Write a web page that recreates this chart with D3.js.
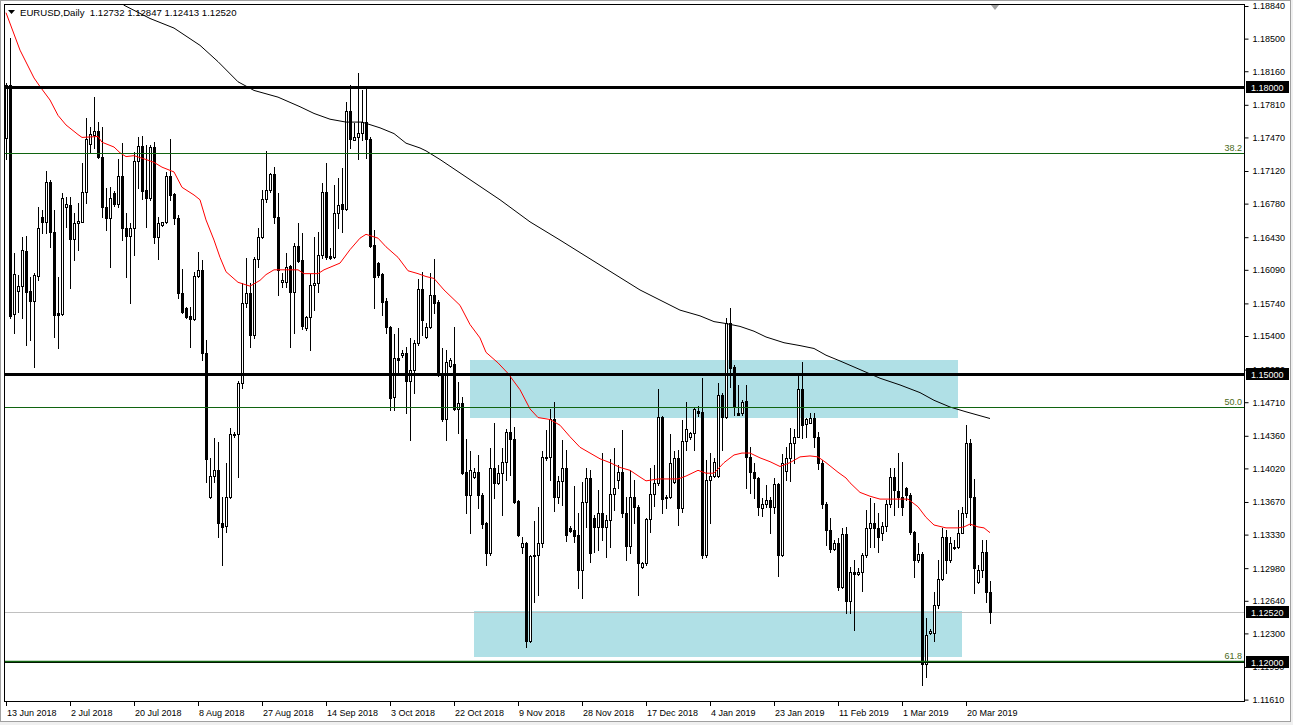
<!DOCTYPE html>
<html><head><meta charset="utf-8">
<script src="https://cdn.jsdelivr.net/npm/d3@7"></script>
<style>
body{margin:0;background:#fff;overflow:hidden;}
svg{display:block;}
text{font-family:"Liberation Sans",Arial,sans-serif;}
</style>
</head><body>
<svg id="c" width="1293" height="725"></svg>
<script>
// ---------- DATA ----------
const opens = [1.1746,1.1802,1.1563,1.1587,1.1592,1.1629,1.1587,1.1577,1.1603,1.1664,1.1659,1.1701,1.1648,1.1564,1.1563,1.1675,1.1677,1.1641,1.1658,1.1659,
1.1690,1.1740,1.1750,1.1754,1.1727,1.1675,1.1663,1.1689,1.1678,1.1707,1.1653,1.1644,1.1653,1.1722,1.1738,1.1692,1.1684,1.1737,1.1643,1.1656,
1.1659,1.1707,1.1688,1.1663,1.1585,1.1569,1.1561,1.1558,1.1603,1.1609,1.1522,1.1372,1.1394,1.1400,1.1345,1.1342,1.1372,1.1437,1.1438,1.1491,
1.1574,1.1585,1.1541,1.1620,1.1643,1.1683,1.1692,1.1709,1.1664,1.1596,1.1596,1.1613,1.1586,1.1634,1.1619,1.1548,1.1560,1.1593,1.1595,1.1624,
1.1690,1.1623,1.1622,1.1668,1.1678,1.1672,1.1775,1.1744,1.1747,1.1752,1.1763,1.1745,1.1635,1.1616,1.1605,1.1577,1.1549,1.1476,1.1517,1.1520,
1.1522,1.1493,1.1505,1.1533,1.1589,1.1539,1.1549,1.1583,1.1575,1.1500,1.1454,1.1509,1.1511,1.1464,1.1470,1.1398,1.1374,1.1393,1.1398,1.1374,
1.1345,1.1314,1.1402,1.1387,1.1397,1.1409,1.1440,1.1433,1.1368,1.1320,1.1324,1.1222,1.1311,1.1312,1.1324,1.1413,1.1414,1.1454,1.1372,1.1389,
1.1402,1.1340,1.1338,1.1333,1.1296,1.1367,1.1392,1.1350,1.1341,1.1355,1.1341,1.1348,1.1375,1.1390,1.1398,1.1356,1.1321,1.1372,1.1362,1.1299,
1.1303,1.1349,1.1375,1.1387,1.1456,1.1371,1.1372,1.1388,1.1413,1.1361,1.1431,1.1435,1.1439,1.1462,1.1461,1.1312,1.1390,1.1394,1.1394,1.1479,
1.1456,1.1554,1.1508,1.1460,1.1460,1.1472,1.1414,1.1398,1.1392,1.1361,1.1365,1.1369,1.1362,1.1386,1.1312,1.1399,1.1413,1.1428,1.1435,1.1485,
1.1448,1.1449,1.1455,1.1435,1.1408,1.1365,1.1338,1.1318,1.1324,1.1278,1.1334,1.1264,1.1294,1.1292,1.1294,1.1312,1.1340,1.1345,1.1340,1.1335,
1.1342,1.1365,1.1393,1.1378,1.1372,1.1382,1.1374,1.1336,1.1307,1.1313,1.1198,1.1230,1.1230,1.1260,1.1287,1.1331,1.1307,1.1319,1.1320,1.1335,
1.1355,1.1428,1.1372,1.1284,1.1296,1.1315,1.12732];
const highs = [1.1804,1.1851,1.1627,1.1604,1.1643,1.1644,1.1601,1.1606,1.1675,1.1671,1.1712,1.1703,1.1671,1.1601,1.1689,1.1685,1.1685,1.1668,1.1679,1.1720,
1.1767,1.1758,1.1789,1.1763,1.1758,1.1694,1.1695,1.1691,1.1725,1.1741,1.1668,1.1658,1.1732,1.1747,1.1749,1.1739,1.1739,1.1742,1.1664,1.1659,
1.1711,1.1745,1.1689,1.1666,1.1610,1.1570,1.1570,1.1607,1.1628,1.1619,1.1536,1.1413,1.1434,1.1429,1.1372,1.1408,1.1444,1.1440,1.1493,1.1595,
1.1621,1.1595,1.1622,1.1653,1.1692,1.1733,1.1710,1.1716,1.1689,1.1606,1.1627,1.1614,1.1637,1.1658,1.1647,1.1561,1.1605,1.1643,1.1648,1.1700,
1.1720,1.1632,1.1697,1.1705,1.1715,1.1784,1.1802,1.1762,1.1814,1.1796,1.1798,1.1747,1.1651,1.1617,1.1606,1.1580,1.1550,1.1542,1.1548,1.1525,
1.1529,1.1538,1.1536,1.1599,1.1607,1.1554,1.1606,1.1620,1.1578,1.1528,1.1525,1.1517,1.1549,1.1492,1.1476,1.1433,1.1420,1.1402,1.1416,1.1376,
1.1346,1.1423,1.1449,1.1406,1.1423,1.1443,1.1500,1.1445,1.1369,1.1331,1.1325,1.1312,1.1347,1.1362,1.1420,1.1442,1.1464,1.1471,1.1394,1.1432,
1.1421,1.1342,1.1384,1.1356,1.1388,1.1402,1.1400,1.1353,1.1380,1.1418,1.1353,1.1412,1.1423,1.1406,1.1442,1.1372,1.1400,1.1390,1.1364,1.1304,
1.1350,1.1402,1.1406,1.1485,1.1457,1.1374,1.1438,1.1420,1.1421,1.1452,1.1471,1.1440,1.1466,1.1467,1.1496,1.1411,1.1418,1.1413,1.1491,1.1481,
1.1559,1.1569,1.1510,1.1489,1.1473,1.1489,1.1424,1.1408,1.1393,1.1371,1.1385,1.1372,1.1392,1.1387,1.1417,1.1424,1.1444,1.1443,1.1499,1.1513,
1.1455,1.1460,1.1460,1.1440,1.1411,1.1367,1.1350,1.1327,1.1329,1.1340,1.1341,1.1299,1.1307,1.1298,1.1314,1.1359,1.1371,1.1366,1.1356,1.1346,
1.1369,1.1402,1.1402,1.1418,1.1409,1.1383,1.1376,1.1337,1.1324,1.1315,1.1246,1.1235,1.1273,1.1307,1.1340,1.1338,1.1331,1.1327,1.1359,1.1362,
1.1447,1.1433,1.1391,1.1301,1.1327,1.1327,1.12847];
const lows = [1.1724,1.1559,1.1543,1.1565,1.1559,1.1531,1.1536,1.1508,1.1598,1.1647,1.1647,1.1633,1.1539,1.1527,1.1562,1.1654,1.1590,1.1619,1.1630,1.1659,
1.1679,1.1732,1.1736,1.1726,1.1664,1.1651,1.1612,1.1676,1.1675,1.1640,1.1602,1.1574,1.1624,1.1694,1.1683,1.1654,1.1682,1.1637,1.1620,1.1655,
1.1658,1.1682,1.1657,1.1580,1.1564,1.1559,1.1529,1.1557,1.1602,1.1515,1.1388,1.1371,1.1388,1.1331,1.1301,1.1336,1.1371,1.1435,1.1393,1.1486,
1.1570,1.1529,1.1538,1.1612,1.1642,1.1680,1.1690,1.1658,1.1583,1.1591,1.1591,1.1529,1.1543,1.1617,1.1547,1.1546,1.1525,1.1567,1.1586,1.1621,
1.1620,1.1620,1.1621,1.1653,1.1648,1.1671,1.1736,1.1744,1.1724,1.1744,1.1726,1.1633,1.1569,1.1602,1.1562,1.1543,1.1463,1.1463,1.1501,1.1518,
1.1460,1.1432,1.1481,1.1531,1.1541,1.1538,1.1548,1.1564,1.1498,1.1451,1.1432,1.1508,1.1463,1.1439,1.1396,1.1356,1.1335,1.1392,1.1361,1.1340,
1.1301,1.1312,1.1371,1.1386,1.1353,1.1390,1.1395,1.1366,1.1332,1.1314,1.1216,1.1221,1.1263,1.1270,1.1320,1.1411,1.1390,1.1358,1.1366,1.1364,
1.1326,1.1336,1.1325,1.1277,1.1267,1.1341,1.1304,1.1315,1.1317,1.1327,1.1310,1.1320,1.1359,1.1382,1.1351,1.1306,1.1314,1.1345,1.1270,1.1298,
1.1301,1.1336,1.1363,1.1385,1.1356,1.1361,1.1371,1.1387,1.1343,1.1357,1.1421,1.1433,1.1421,1.1457,1.1309,1.1310,1.1345,1.1393,1.1393,1.1421,
1.1455,1.1487,1.1458,1.1458,1.1458,1.1382,1.1376,1.1371,1.1353,1.1352,1.1362,1.1335,1.1356,1.1290,1.1311,1.1390,1.1389,1.1408,1.1435,1.1434,
1.1435,1.1449,1.1424,1.1401,1.1361,1.1322,1.1315,1.1317,1.1275,1.1277,1.1251,1.1251,1.1234,1.1291,1.1274,1.1310,1.1320,1.1320,1.1315,1.1327,
1.1337,1.1362,1.1353,1.1362,1.1353,1.1369,1.1334,1.1289,1.1304,1.1176,1.1185,1.1229,1.1222,1.1256,1.1286,1.1293,1.1304,1.1318,1.1319,1.1335,
1.1351,1.1343,1.1272,1.1283,1.1289,1.1263,1.12413];
const closes = [1.1802,1.1561,1.1605,1.1592,1.1630,1.1586,1.1577,1.1604,1.1653,1.1659,1.1701,1.1648,1.1562,1.1562,1.1684,1.1678,1.1641,1.1658,1.1660,1.1690,
1.1745,1.1751,1.1754,1.1727,1.1675,1.1663,1.1684,1.1678,1.1707,1.1653,1.1644,1.1653,1.1722,1.1738,1.1691,1.1684,1.1737,1.1643,1.1658,1.1659,
1.1707,1.1687,1.1663,1.1585,1.1565,1.1560,1.1558,1.1603,1.1609,1.1522,1.1412,1.1394,1.1400,1.1345,1.1341,1.1372,1.1438,1.1438,1.1491,1.1574,
1.1585,1.1541,1.1620,1.1643,1.1683,1.1692,1.1709,1.1664,1.1609,1.1598,1.1612,1.1586,1.1634,1.1618,1.1550,1.1560,1.1593,1.1595,1.1624,1.1690,
1.1622,1.1621,1.1668,1.1677,1.1672,1.1775,1.1745,1.1747,1.1752,1.1763,1.1745,1.1634,1.1602,1.1604,1.1575,1.1549,1.1475,1.1517,1.1515,1.1522,
1.1493,1.1505,1.1533,1.1589,1.1557,1.1549,1.1583,1.1574,1.1500,1.1454,1.1513,1.1515,1.1464,1.1470,1.1397,1.1374,1.1400,1.1398,1.1374,1.1344,
1.1314,1.1402,1.1387,1.1397,1.1409,1.1440,1.1433,1.1367,1.1333,1.1324,1.1222,1.1311,1.1312,1.1324,1.1414,1.1414,1.1454,1.1372,1.1389,1.1402,
1.1333,1.1337,1.1332,1.1296,1.1367,1.1392,1.1314,1.1341,1.1355,1.1341,1.1348,1.1375,1.1382,1.1398,1.1356,1.1321,1.1372,1.1362,1.1303,1.1303,
1.1349,1.1375,1.1387,1.1456,1.1370,1.1372,1.1408,1.1413,1.1361,1.1431,1.1443,1.1439,1.1464,1.1460,1.1312,1.1390,1.1394,1.1409,1.1479,1.1456,
1.1554,1.1507,1.1466,1.1458,1.1471,1.1414,1.1398,1.1392,1.1362,1.1365,1.1369,1.1362,1.1386,1.1312,1.1408,1.1413,1.1428,1.1435,1.1485,1.1447,
1.1453,1.1455,1.1435,1.1408,1.1365,1.1338,1.1318,1.1324,1.1278,1.1334,1.1264,1.1294,1.1292,1.1294,1.1312,1.1340,1.1345,1.1340,1.1331,1.1342,
1.1365,1.1393,1.1380,1.1372,1.1362,1.1374,1.1336,1.1307,1.1313,1.1198,1.1228,1.1233,1.1260,1.1287,1.1331,1.1307,1.1324,1.1320,1.1335,1.1355,
1.1428,1.1372,1.1298,1.1296,1.1315,1.1273,1.12520];

// moving averages (bar index, value)
const redIdx = [0,3.5,7,8.5,11,13,15,18,19,23,24,27,28.5,30,32,35,37,39,42,44,47,48.5,50,52,53.5,55,58,61,63.5,65,67,70,73,74.5,78,79.5,83.5,86,88.5,90,93,95,98,100.5,103,105,107,109.5,112,113.5,116,118.5,120,123,125.5,128.5,131,133,136,138.5,141,143.5,146,148.5,151,153.5,156,158.5,160,163,165,168,170,173,175,177,179.5,182,184,186,188.5,191,193.5,196,198.5,201,203,205,208,210,211,213.5,216,218.5,221,223.5,225.5,228,230,232,235,238,239.5,241,243,244.5,246];
const redVal = [1.1877,1.1838,1.1809,1.1800,1.1786,1.1770,1.1760,1.1750,1.1747,1.1748,1.1742,1.1737,1.1731,1.1727,1.1728,1.1724,1.1721,1.1716,1.1711,1.1695,1.1687,1.1682,1.1661,1.1640,1.1622,1.1607,1.1596,1.1592,1.1598,1.1604,1.1609,1.1609,1.1609,1.1605,1.1605,1.1609,1.1616,1.1630,1.1642,1.1646,1.1642,1.1633,1.1622,1.1608,1.1605,1.1602,1.1600,1.1588,1.1578,1.1572,1.1552,1.1538,1.1523,1.1512,1.1501,1.1484,1.1464,1.1455,1.1453,1.1447,1.1435,1.1424,1.1418,1.1412,1.1408,1.1403,1.1400,1.1393,1.1389,1.1391,1.1391,1.1391,1.1394,1.1400,1.1397,1.1397,1.1408,1.1416,1.1418,1.1418,1.1413,1.1409,1.1404,1.1408,1.1414,1.1415,1.1414,1.1408,1.1398,1.1392,1.1387,1.1377,1.1373,1.1370,1.1370,1.1370,1.1370,1.1362,1.1351,1.1343,1.1340,1.1340,1.1341,1.1344,1.1341,1.1340,1.1335];
const blackIdx = [29.4,36,42,48.5,53,58,62,68,73.5,77,81,85,89,93.5,97,100,103.5,105,108.5,116,123.5,131,138.5,148.5,158.5,168.5,173.5,177,180,183.5,187,190,194.5,198.5,202,205,208.5,213.5,218.5,223.5,228.5,232,236,240,246];
const blackVal = [1.1885,1.1871,1.1861,1.1843,1.1826,1.1805,1.1796,1.1789,1.1779,1.1772,1.1766,1.1763,1.1763,1.1757,1.1751,1.1741,1.1736,1.1733,1.1724,1.1703,1.1682,1.1659,1.1640,1.1614,1.1588,1.1567,1.1561,1.1555,1.1553,1.1550,1.1545,1.1539,1.1533,1.1530,1.1527,1.1520,1.1514,1.1505,1.1496,1.1489,1.1481,1.1473,1.1466,1.1461,1.1454];

// zones (bar index from/to, price top/bottom)
const zoneFrom = [116, 117];
const zoneTo = [238, 239];
const zoneTop = [1.1515, 1.1253];
const zoneBottom = [1.1455, 1.1205];

// horizontal levels
const levelPrices = [1.18000, 1.15000, 1.12000];
const levelWidths = [3, 3, 1];
const fibPrices = [1.1731, 1.1466, 1.1201];
const fibLabels = ["38.2", "50.0", "61.8"];
const bidPrice = 1.12520;

// axis ticks
const priceTicks = [1.18840,1.18500,1.18160,1.17810,1.17470,1.17120,1.16780,1.16430,1.16090,1.15740,1.15400,1.15050,1.14710,1.14360,1.14020,1.13670,1.13330,1.12980,1.12640,1.12300,1.11950,1.11610];
const dateLabels = ["13 Jun 2018","2 Jul 2018","20 Jul 2018","8 Aug 2018","27 Aug 2018","14 Sep 2018","3 Oct 2018","22 Oct 2018","9 Nov 2018","28 Nov 2018","17 Dec 2018","4 Jan 2019","23 Jan 2019","11 Feb 2019","1 Mar 2019","20 Mar 2019"];
const dateIdx = [0,16,32,48,64,80,96,112,128,144,160,176,192,208,224,240];
const boxPrices = [1.18000, 1.15000, 1.12520, 1.12000];
const titleText = "EURUSD,Daily  1.12732 1.12847 1.12413 1.12520";

// ---------- DRAW ----------
const W = 1293, H = 725;
const L = 4, R = 1244, T = 4, B = 701;
const svg = d3.select("#c");
const x = d3.scaleLinear().domain([-0.5, 309.5]).range([L, R]);
const y = d3.scaleLinear().domain([1.11610, 1.18840]).range([699.6, 6]);
const fs = 9;

svg.append("rect").attr("width", W).attr("height", H).attr("fill", "#f0f0f0");
svg.append("rect").attr("x", 0.5).attr("y", 0.5).attr("width", 1290).attr("height", 721)
  .attr("fill", "#fff").attr("stroke", "#a0a0a0");

svg.append("defs").append("clipPath").attr("id", "clip")
  .append("rect").attr("x", L + 1).attr("y", T + 1).attr("width", R - L - 1).attr("height", B - T - 1);
const g = svg.append("g").attr("clip-path", "url(#clip)");

// zones
g.selectAll("rect.zone").data(zoneFrom).join("rect").attr("class", "zone")
  .attr("x", (d, i) => Math.round(x(d)))
  .attr("width", (d, i) => Math.round(x(zoneTo[i])) - Math.round(x(d)))
  .attr("y", (d, i) => Math.round(y(zoneTop[i])))
  .attr("height", (d, i) => Math.round(y(zoneBottom[i])) - Math.round(y(zoneTop[i])))
  .attr("fill", "#b0e0e6");

// bid line
g.append("line").attr("x1", L).attr("x2", R)
  .attr("y1", Math.round(y(bidPrice)) + 0.5).attr("y2", Math.round(y(bidPrice)) + 0.5)
  .attr("stroke", "#c0c0c0").attr("stroke-width", 1);

// candles
const n = closes.length;
const idx = d3.range(n);
const cg = g.append("g");
cg.selectAll("line.wick").data(idx).join("line").attr("class", "wick")
  .attr("x1", i => Math.round(x(i)) + 0.5).attr("x2", i => Math.round(x(i)) + 0.5)
  .attr("y1", i => Math.round(y(highs[i]))).attr("y2", i => Math.round(y(lows[i])) + 1)
  .attr("stroke", "#000").attr("stroke-width", 1);
cg.selectAll("rect.body").data(idx).join("rect").attr("class", "body")
  .each(function (i) {
    const cx = Math.round(x(i));
    const yo = Math.round(y(opens[i])), yc = Math.round(y(closes[i]));
    const s = d3.select(this);
    if (closes[i] >= opens[i]) {
      s.attr("x", cx - 0.5).attr("width", 2)
        .attr("y", yc + 0.5).attr("height", Math.max(0, yo - yc))
        .attr("fill", "#fff").attr("stroke", "#000").attr("stroke-width", 1);
    } else {
      s.attr("x", cx - 1).attr("width", 3)
        .attr("y", yo).attr("height", Math.max(1, yc - yo + 1))
        .attr("fill", "#000");
    }
  });

// moving averages
const lineGen = d3.line().x(d => x(d[0])).y(d => y(d[1]));
g.append("path").datum(redIdx.map((d, i) => [d, redVal[i]]))
  .attr("d", lineGen).attr("fill", "none").attr("stroke", "#ff0000").attr("stroke-width", 1);
g.append("path").datum(blackIdx.map((d, i) => [d, blackVal[i]]))
  .attr("d", lineGen).attr("fill", "none").attr("stroke", "#000").attr("stroke-width", 1);

// horizontal levels
g.selectAll("line.level").data(levelPrices).join("line").attr("class", "level")
  .attr("x1", L).attr("x2", R)
  .attr("y1", (d, i) => Math.round(y(d)) + (levelWidths[i] % 2 ? 0.5 : 0))
  .attr("y2", (d, i) => Math.round(y(d)) + (levelWidths[i] % 2 ? 0.5 : 0))
  .attr("stroke", "#000").attr("stroke-width", (d, i) => levelWidths[i]);

// fib lines (drawn above levels)
g.selectAll("line.fib").data(fibPrices).join("line").attr("class", "fib")
  .attr("x1", L).attr("x2", R)
  .attr("y1", d => Math.round(y(d)) + 0.5).attr("y2", d => Math.round(y(d)) + 0.5)
  .attr("stroke", "#106410").attr("stroke-width", (d, i) => i === 2 ? 1.6 : 1);
g.selectAll("text.fib").data(fibPrices).join("text").attr("class", "fib")
  .attr("x", R - 2).attr("y", d => Math.round(y(d)) - 2)
  .attr("text-anchor", "end").attr("font-size", fs).attr("fill", "#4a6a20")
  .text((d, i) => fibLabels[i]);

// chart frame
svg.append("rect").attr("x", L + 0.5).attr("y", T + 0.5).attr("width", R - L).attr("height", B - T)
  .attr("fill", "none").attr("stroke", "#000");

// shift marker
svg.append("path").attr("d", "M991,5 L999,5 L995,10 Z").attr("fill", "#a0a0a0");

// right axis
const yAxis = d3.axisRight(y).tickValues(priceTicks).tickSize(4).tickPadding(4)
  .tickFormat(d3.format(".5f"));
const ya = svg.append("g").attr("transform", `translate(${R + 0.5},0)`).call(yAxis);
ya.select(".domain").remove();
ya.selectAll("line").attr("stroke", "#000");
ya.selectAll("text").attr("font-size", fs).attr("font-family", "Liberation Sans, Arial, sans-serif").attr("fill", "#000");

// price boxes (cover the neighbouring tick labels like the original)
const bx = svg.selectAll("g.box").data(boxPrices).join("g").attr("class", "box")
  .attr("transform", d => `translate(1246,${Math.round(y(d))})`);
bx.append("rect").attr("x", 0).attr("y", -6).attr("width", 43).attr("height", 12).attr("fill", "#000");
bx.append("text").attr("x", 5).attr("y", 3.5).attr("font-size", fs).attr("fill", "#fff")
  .text(d => d3.format(".5f")(d));

// bottom axis
const xa = svg.append("g");
xa.selectAll("line").data(dateIdx).join("line")
  .attr("x1", d => Math.round(x(d)) + 0.5).attr("x2", d => Math.round(x(d)) + 0.5)
  .attr("y1", B).attr("y2", B + 5).attr("stroke", "#000");
xa.selectAll("text").data(dateIdx).join("text")
  .attr("x", d => Math.round(x(d)) + 1).attr("y", 716)
  .attr("font-size", fs).attr("fill", "#000")
  .text((d, i) => dateLabels[i]);

// title
svg.append("path").attr("d", "M8,10 L15,10 L11.5,14 Z").attr("fill", "#000");
svg.append("text").attr("x", 20).attr("y", 15.5).attr("font-size", 9.6).attr("fill", "#000")
  .style("white-space", "pre").text(titleText);
</script>
</body></html>
